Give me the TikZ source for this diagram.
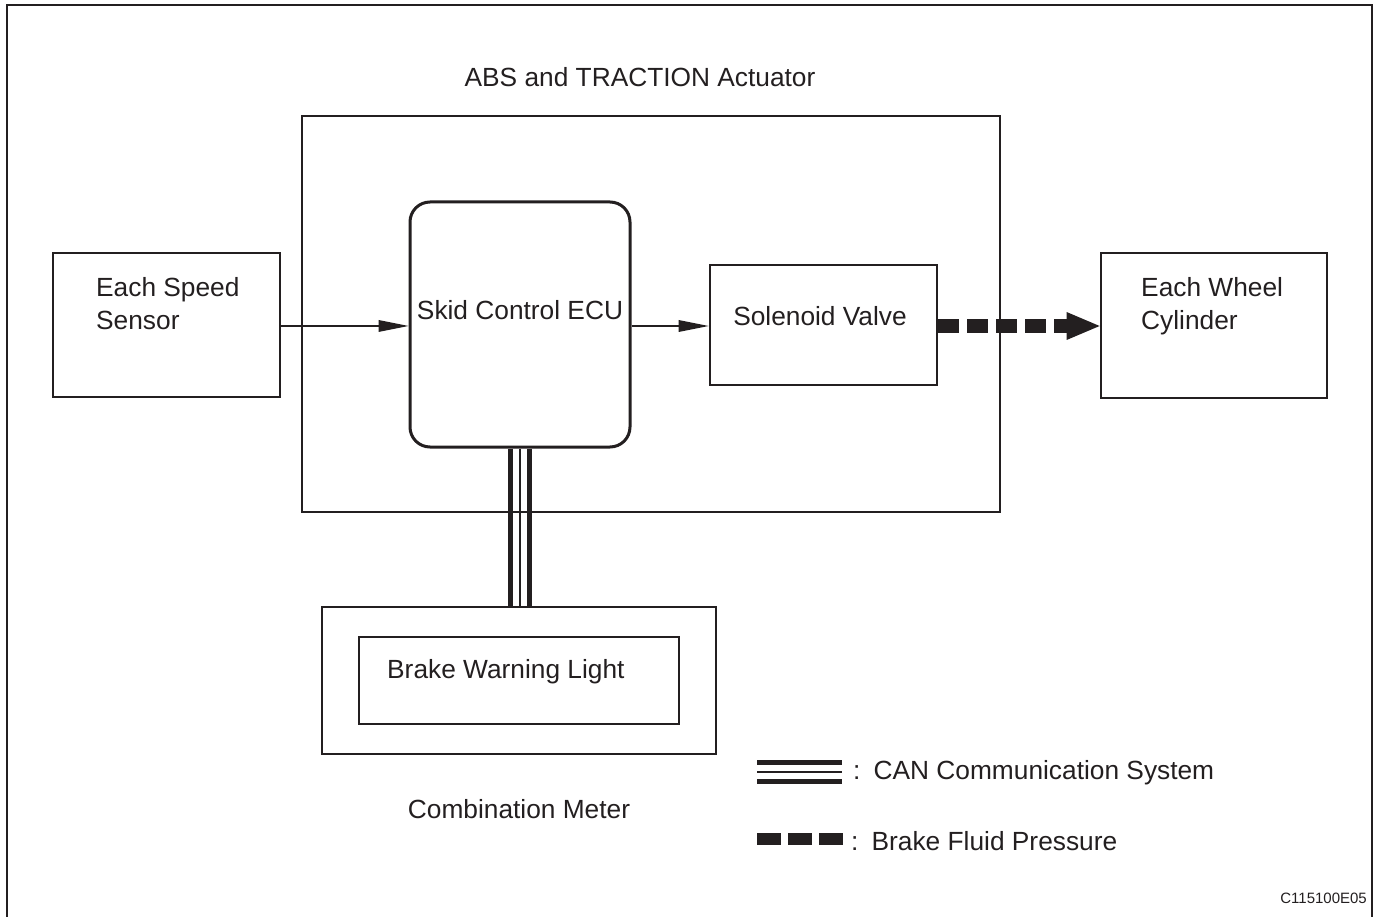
\documentclass[tikz,border=0pt]{standalone}
\usepackage{fontspec}
\setmainfont{Liberation Sans}
\usetikzlibrary{arrows.meta}
\definecolor{ink}{HTML}{231F20}
\begin{document}
\begin{tikzpicture}[x=1pt,y=-1pt,
  box/.style={draw=ink, line width=2.8pt, inner sep=0pt},
  ecubox/.style={draw=ink, line width=3pt, inner sep=0pt, rounded corners=20pt},
  txt/.style={font=\fontsize{26.3}{33}\selectfont, text=ink, inner sep=0pt, align=left},
  sig/.style={draw=ink, line width=1.5pt, -{Triangle[length=30pt,width=12pt,line width=0pt]}},
  fluid/.style={draw=ink, line width=14pt, dash pattern=on 21pt off 8pt, -{Triangle[length=33pt,width=28pt,line width=0pt]}},
  canthick/.style={draw=ink, line width=4.5pt},
  canthin/.style={draw=ink, line width=1.8pt},
  legdash/.style={draw=ink, line width=12pt, dash pattern=on 23.5pt off 7.5pt}
]
\useasboundingbox (0,0) rectangle (1377,917);
% outer frame (open at bottom)
\draw[ink, line width=2pt] (7,917) -- (7,5) -- (1372,5) -- (1372,917);

% boxes
\node[box, minimum width=698pt, minimum height=396pt] (act) at (651,314) {};
\node[ecubox, minimum width=220pt, minimum height=245pt] (ecu) at (520,324.5) {};
\node[box, minimum width=227pt, minimum height=144pt] (sens) at (166.5,325) {};
\node[box, minimum width=227pt, minimum height=120pt] (sol) at (823.5,325) {};
\node[box, minimum width=226pt, minimum height=145pt] (cyl) at (1214,325.5) {};
\node[box, minimum width=394pt, minimum height=147pt] (meter) at (519,680.5) {};
\node[box, minimum width=320pt, minimum height=87pt] (bwl) at (519,680.5) {};

% texts
\node[txt, anchor=base] (title) at (640,87) {ABS and TRACTION Actuator};
\node[txt, anchor=base west] (senstxt) at (96,330) {Each Speed\\Sensor};
\node[txt, anchor=base] (ecutxt) at (520,320) {Skid Control ECU};
\node[txt, anchor=base] (soltxt) at (820,326) {Solenoid Valve};
\node[txt, anchor=base west] (cyltxt) at (1141,330) {Each Wheel\\Cylinder};
\node[txt, anchor=base west] (bwltxt) at (387,678) {Brake Warning Light};
\node[txt, anchor=base] (metertxt) at (519,818) {Combination Meter};

% connectors
\draw[sig] (sens.east |- 0,326) -- (ecu.west |- 0,326);
\draw[sig] (ecu.east |- 0,326) -- (sol.west |- 0,326);
\draw[fluid] (sol.east |- 0,326) -- (cyl.west |- 0,326);

% CAN bus
\draw[canthick] ([xshift=-9.5pt]ecu.south) -- ([xshift=-9.5pt]ecu.south |- meter.north);
\draw[canthin] (ecu.south) -- (ecu.south |- meter.north);
\draw[canthick] ([xshift=9.5pt]ecu.south) -- ([xshift=9.5pt]ecu.south |- meter.north);

% legend
\coordinate (canL) at (757,772);
\coordinate (canR) at (842,772);
\draw[canthick] ([yshift=9.5pt]canL) -- ([yshift=9.5pt]canR);
\draw[canthin] (canL) -- (canR);
\draw[canthick] ([yshift=-9.5pt]canL) -- ([yshift=-9.5pt]canR);
\node[txt, anchor=base west] (lg1) at (853,779) {:\enspace CAN Communication System};

\coordinate (flL) at (757,839);
\coordinate (flR) at (843,839);
\draw[legdash] (flL) -- (flR);
\node[txt, anchor=base west] (lg2) at (851,850) {:\enspace Brake Fluid Pressure};

\node[font=\fontsize{15}{17}\selectfont, text=ink, anchor=base east, inner sep=0pt] (code) at (1367,903) {C115100E05};
\end{tikzpicture}
\end{document}
